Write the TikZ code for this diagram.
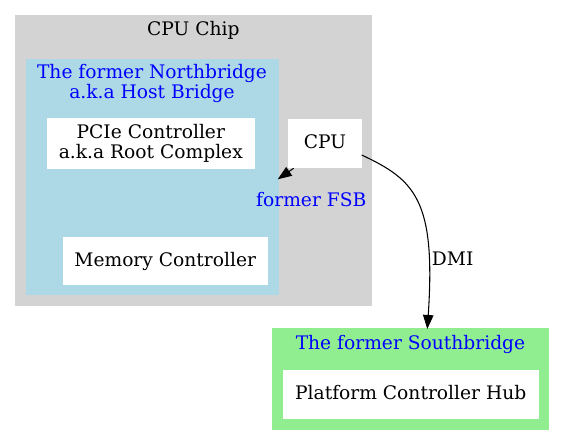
\documentclass[tikz,border=0pt]{standalone}
\usepackage{fontspec}
\setmainfont{DejaVu Serif}
\usetikzlibrary{arrows.meta}
\definecolor{gvgray}{HTML}{D3D3D3}
\definecolor{gvblue}{HTML}{ADD8E6}
\definecolor{gvgreen}{HTML}{90EE90}
\definecolor{gvlabel}{HTML}{0000FF}
\tikzset{
  gvfont/.style={font=\fontsize{14}{15}\selectfont},
  cluster/.style={draw=none, inner sep=0pt, outer sep=0pt},
  nodebox/.style={fill=white, draw=none, inner sep=0pt, outer sep=0pt, gvfont, align=center},
  oneline/.style={text height=10.5pt, text depth=2.8pt},
  clabel/.style={gvfont, text=gvlabel, inner sep=0pt, align=center},
  elabel/.style={gvfont, inner sep=0pt},
  gvedge/.style={draw=black, line width=0.8pt, -{Triangle[length=10.5pt,width=7.8pt]}},
}
\begin{document}
\begin{tikzpicture}[x=0.75pt, y=-0.75pt]
\useasboundingbox (0,0) rectangle (565,445);
% clusters
\node[cluster, fill=gvgray, minimum width=267.75pt, minimum height=218.25pt] (chip) at (193.4,160.9) {};
\node[clabel, text=black, anchor=base] (chiplabel) at (193.3,36) {CPU Chip};
\node[cluster, fill=gvblue, minimum width=189.5pt, minimum height=177pt] (nb) at (152.7,177.5) {};
\node[clabel] (nblabel) at (152,83) {The former Northbridge\\a.k.a Host Bridge};
\node[cluster, fill=gvgreen, minimum width=208.2pt, minimum height=76.3pt] (sb) at (410.5,379.2) {};
\node[clabel, anchor=base] (sblabel) at (410.5,349.3) {The former Southbridge};
% nodes
\node[nodebox, minimum width=156.2pt, minimum height=38.25pt] (pcie) at (150.8,143.8) {PCIe Controller\\a.k.a Root Complex};
\node[nodebox, oneline, minimum width=153.8pt, minimum height=36.5pt] (mem) at (165.2,261) {Memory Controller};
\node[nodebox, oneline, minimum width=55pt, minimum height=36.75pt] (cpu) at (325,143.8) {CPU};
\node[nodebox, oneline, minimum width=192pt, minimum height=37pt] (pch) at (410.7,394.7) {Platform Controller Hub};
% edge end points on cluster borders
\coordinate (fsbend) at (277.7,179.3);
\coordinate (dmiend) at (427.3,329);
% edges
\draw[gvedge] ([xshift=4pt]cpu.south west) -- (fsbend);
\node[elabel, text=gvlabel, anchor=base] (fsblabel) at (311.3,206.7) {former FSB};
\draw[gvedge] ([yshift=-8.4pt]cpu.east) .. controls (415,180) and (436,200) .. (dmiend);
\node[elabel, anchor=base] (dmilabel) at (452.7,266) {DMI};
\end{tikzpicture}
\end{document}
